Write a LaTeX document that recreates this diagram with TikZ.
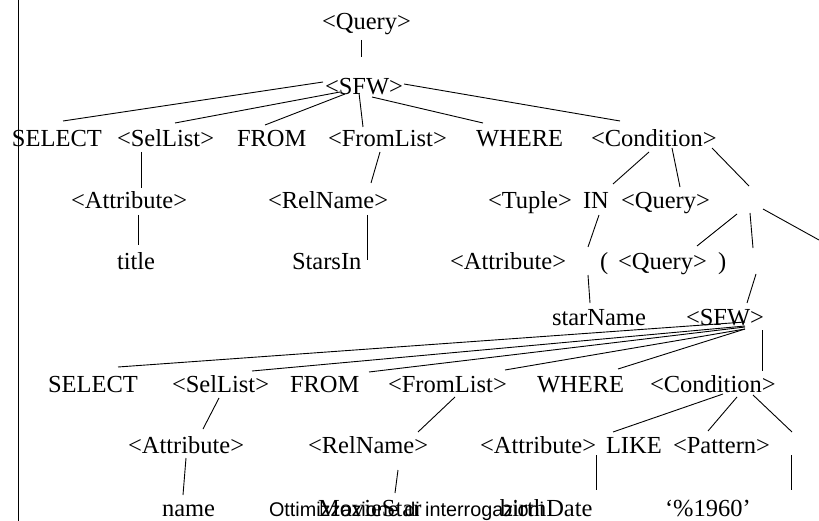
\documentclass[tikz,border=0pt]{standalone}
\usepackage{fontspec}
\setmainfont{Liberation Serif}
\newfontfamily\ottsans{Liberation Sans}
\begin{document}
\begin{tikzpicture}[x=1pt,y=-1pt,
  lbl/.style={anchor=base west,inner sep=0pt,outer sep=0pt,font=\fontsize{24.5}{29}\selectfont},
  sanslbl/.style={anchor=base west,inner sep=0pt,outer sep=0pt,font=\ottsans\fontsize{19.8}{24}\selectfont},
  edge/.style={draw=black,line width=0.9pt}]
\useasboundingbox (0,0) rectangle (819,521);
\draw[edge] (18,0) -- (18,521);
% nodes
\node[lbl] (q1) at (322,30) {<Query>};
\node[lbl] (sfw1) at (325,95) {<SFW>};
\node[lbl] (sel1) at (12,147) {SELECT};
\node[lbl] (sl1) at (117,147) {<SelList>};
\node[lbl] (from1) at (237,147) {FROM};
\node[lbl] (fl1) at (328,147) {<FromList>};
\node[lbl] (where1) at (476,147) {WHERE};
\node[lbl] (cond1) at (591,147) {<Condition>};
\node[lbl] (attr1) at (71,209) {<Attribute>};
\node[lbl] (rn1) at (268,209) {<RelName>};
\node[lbl] (tuple) at (488,209) {<Tuple>};
\node[lbl] (in) at (583,209) {IN};
\node[lbl] (q2) at (621,209) {<Query>};
\node[lbl] (title) at (117,270) {title};
\node[lbl] (starsin) at (292,270) {StarsIn};
\node[lbl] (attr2) at (450,270) {<Attribute>};
\node[lbl] (lp) at (600,270) {(};
\node[lbl] (q3) at (618,270) {<Query>};
\node[lbl] (rp) at (718,270) {)};
\node[lbl] (starname) at (552,325) {starName};
\node[lbl] (sfw2) at (686,325) {<SFW>};
\node[lbl] (sel2) at (48,392) {SELECT};
\node[lbl] (sl2) at (172,392) {<SelList>};
\node[lbl] (from2) at (290,392) {FROM};
\node[lbl] (fl2) at (388,392) {<FromList>};
\node[lbl] (where2) at (537,392) {WHERE};
\node[lbl] (cond2) at (650,392) {<Condition>};
\node[lbl] (attr3) at (128,453) {<Attribute>};
\node[lbl] (rn2) at (308,453) {<RelName>};
\node[lbl] (attr4) at (480,453) {<Attribute>};
\node[lbl] (like) at (606,453) {LIKE};
\node[lbl] (pat) at (673,453) {<Pattern>};
\node[lbl] (name) at (162,516) {name};
\node[sanslbl] (ott) at (269,516) {Ottimizzazione di interrogazioni};
\node[lbl] (movie) at (318,516) {MovieStar};
\node[lbl] (birth) at (500,516) {birthDate};
\node[lbl] (pct) at (665,516) {‘\%1960’};
% connector end points
\coordinate (a1) at (361,40);  \coordinate (b1) at (361,57);
\coordinate (a2) at (323,82);  \coordinate (b2) at (63,121);
\coordinate (a3) at (340,92);  \coordinate (b3) at (175,123);
\coordinate (a4) at (345,94);  \coordinate (b4) at (265,125);
\coordinate (a5) at (359,93);  \coordinate (b5) at (363,127);
\coordinate (a6) at (372,97);  \coordinate (b6) at (483,123);
\coordinate (a7) at (404,84);  \coordinate (b7) at (620,121);
\coordinate (a8) at (141,152); \coordinate (b8) at (141,188);
\coordinate (a9) at (380,152); \coordinate (b9) at (371,183);
\coordinate (a10) at (138,215); \coordinate (b10) at (138,245);
\coordinate (a11) at (367,215); \coordinate (b11) at (367,260);
\coordinate (a12) at (649,152); \coordinate (b12) at (613,184);
\coordinate (a13) at (672,148); \coordinate (b13) at (680,187);
\coordinate (a14) at (712,148); \coordinate (b14) at (749,186);
\coordinate (a15) at (737,214); \coordinate (b15) at (697,246);
\coordinate (a16) at (750,213); \coordinate (b16) at (753,248);
\coordinate (a17) at (763,209); \coordinate (b17) at (819,240);
\coordinate (a18) at (599,215); \coordinate (b18) at (588,247);
\coordinate (a19) at (588,275); \coordinate (b19) at (590,303);
\coordinate (a20) at (756,274); \coordinate (b20) at (747,303);
\coordinate (a21) at (745,322); \coordinate (b21) at (118,367);
\coordinate (a22) at (745,326); \coordinate (b22) at (252,371);
\coordinate (a23) at (745,327); \coordinate (b23) at (369,372);
\coordinate (a24) at (745,329); \coordinate (b24) at (505,370);
\coordinate (a25) at (745,329); \coordinate (b25) at (618,369);
\coordinate (a26) at (762,330); \coordinate (b26) at (762,371);
\coordinate (a27) at (219,398); \coordinate (b27) at (203,429);
\coordinate (a28) at (455,397); \coordinate (b28) at (418,432);
\coordinate (a29) at (723,394); \coordinate (b29) at (613,432);
\coordinate (a30) at (737,397); \coordinate (b30) at (708,431);
\coordinate (a31) at (753,395); \coordinate (b31) at (792,432);
\coordinate (a32) at (186,458); \coordinate (b32) at (183,495);
\coordinate (a33) at (398,470); \coordinate (b33) at (395,493);
\coordinate (a34) at (596,455); \coordinate (b34) at (596,490);
\coordinate (a35) at (791,455); \coordinate (b35) at (791,490);
\foreach \i in {1,...,35} {\draw[edge] (a\i) -- (b\i);}
\end{tikzpicture}
\end{document}
